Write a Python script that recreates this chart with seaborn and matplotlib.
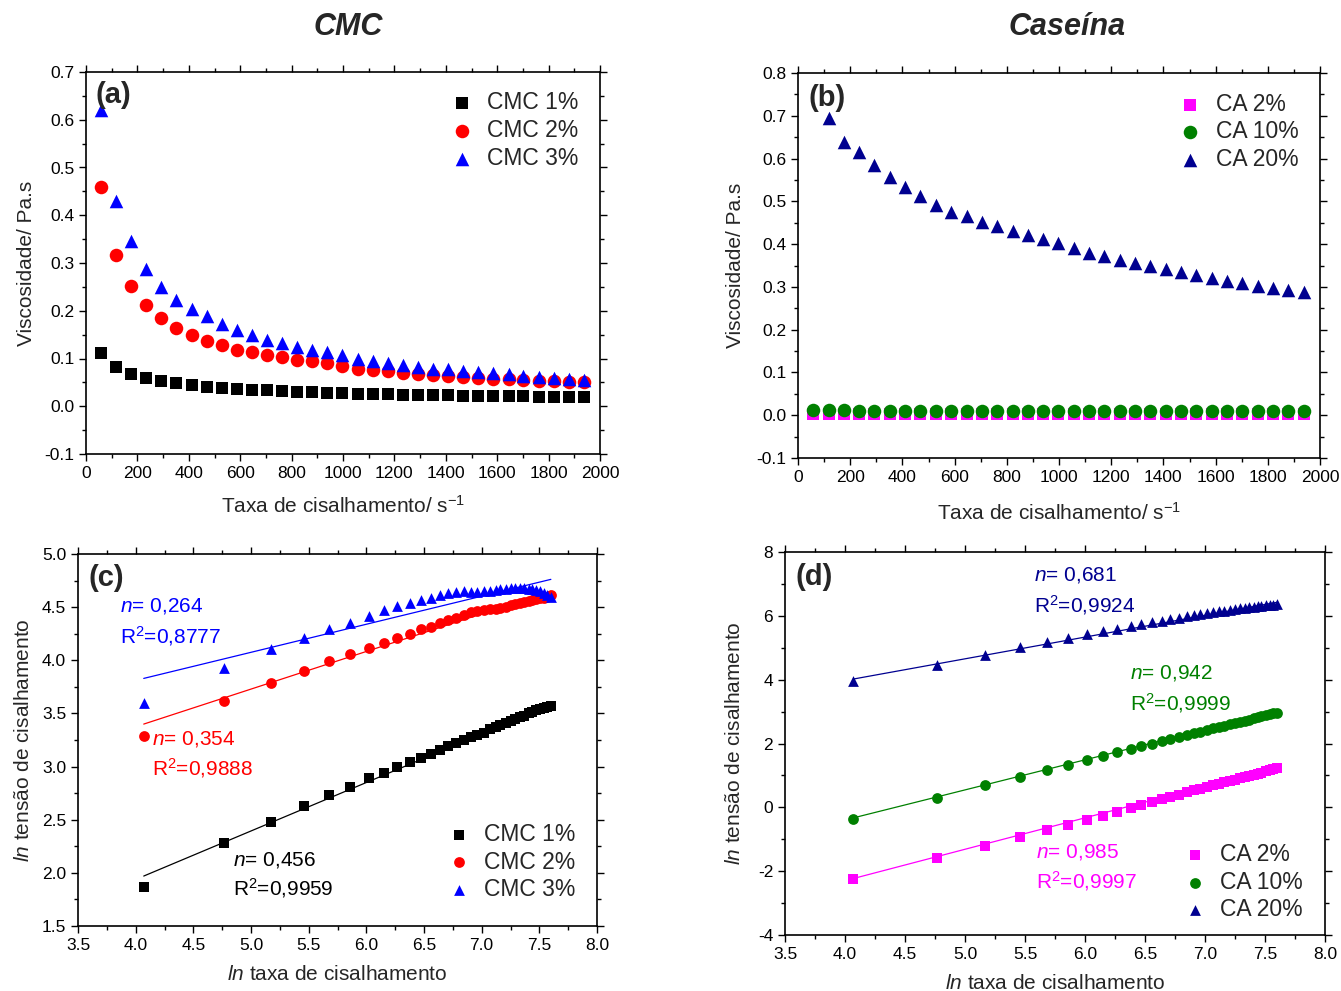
import numpy as np
import pandas as pd
import matplotlib
matplotlib.use("Agg")
import matplotlib.pyplot as plt
from matplotlib.ticker import MultipleLocator, AutoMinorLocator
import seaborn as sns

# ---------------- data ----------------
shear_rate = [58, 117, 176, 234, 293, 352, 411, 469, 528, 587, 646, 704, 763, 822, 880,
              939, 998, 1057, 1115, 1174, 1233, 1291, 1350, 1409, 1468, 1526, 1585, 1644,
              1702, 1761, 1820, 1878, 1937]

cmc1_visc = [0.111, 0.083, 0.068, 0.059, 0.052, 0.048, 0.045, 0.041, 0.038, 0.036, 0.034,
             0.033, 0.031, 0.030, 0.029, 0.028, 0.027, 0.026, 0.026, 0.025, 0.024, 0.024,
             0.023, 0.023, 0.022, 0.022, 0.022, 0.021, 0.021, 0.020, 0.020, 0.019, 0.019]
cmc2_visc = [0.459, 0.317, 0.251, 0.212, 0.185, 0.164, 0.150, 0.137, 0.128, 0.118, 0.113,
             0.107, 0.104, 0.097, 0.094, 0.091, 0.085, 0.079, 0.076, 0.073, 0.070, 0.068,
             0.066, 0.064, 0.062, 0.060, 0.058, 0.057, 0.055, 0.053, 0.052, 0.051, 0.050]
cmc3_visc = [0.620, 0.430, 0.346, 0.287, 0.249, 0.223, 0.203, 0.188, 0.173, 0.160, 0.150,
             0.139, 0.132, 0.125, 0.118, 0.113, 0.107, 0.100, 0.095, 0.091, 0.086, 0.083,
             0.079, 0.077, 0.073, 0.071, 0.069, 0.067, 0.064, 0.062, 0.059, 0.057, 0.055]

ca2_visc = [0.0018, 0.0018, 0.0018, 0.0018, 0.0018, 0.0018, 0.0018, 0.0018, 0.0018, 0.0018,
            0.0018, 0.0018, 0.0018, 0.0018, 0.0018, 0.0018, 0.0018, 0.0017, 0.0017, 0.0017,
            0.0017, 0.0017, 0.0017, 0.0017, 0.0017, 0.0017, 0.0017, 0.0017, 0.0017, 0.0017,
            0.0017, 0.0017, 0.0017]
ca10_visc = [0.012, 0.012, 0.012, 0.011, 0.011, 0.011, 0.011, 0.011, 0.011, 0.011, 0.011,
             0.011, 0.011, 0.011, 0.011, 0.010, 0.010, 0.010, 0.010, 0.010, 0.010, 0.010,
             0.010, 0.010, 0.010, 0.010, 0.010, 0.010, 0.010, 0.010, 0.010, 0.010, 0.010]
ca20_rate = shear_rate[1:]
ca20_visc = [0.694, 0.638, 0.616, 0.586, 0.556, 0.533, 0.513, 0.492, 0.476, 0.465, 0.451,
             0.443, 0.431, 0.421, 0.412, 0.402, 0.390, 0.380, 0.372, 0.363, 0.357, 0.349,
             0.341, 0.335, 0.328, 0.320, 0.314, 0.309, 0.302, 0.297, 0.292, 0.287]

ln_rate = [4.07, 4.77, 5.17, 5.46, 5.68, 5.86, 6.02, 6.15, 6.27, 6.38, 6.47, 6.56, 6.64,
           6.71, 6.78, 6.85, 6.91, 6.96, 7.02, 7.07, 7.12, 7.16, 7.21, 7.25, 7.29, 7.33,
           7.37, 7.41, 7.44, 7.47, 7.51, 7.54, 7.57, 7.60]

cmc1_ln = [1.87, 2.28, 2.48, 2.63, 2.73, 2.81, 2.89, 2.94, 3.00, 3.04, 3.08, 3.12, 3.16,
           3.19, 3.22, 3.25, 3.28, 3.30, 3.32, 3.35, 3.37, 3.39, 3.41, 3.43, 3.45, 3.47,
           3.48, 3.50, 3.51, 3.53, 3.54, 3.55, 3.56, 3.57]
cmc2_ln = [3.29, 3.62, 3.79, 3.90, 3.99, 4.06, 4.12, 4.16, 4.21, 4.25, 4.29, 4.31, 4.35,
           4.38, 4.40, 4.43, 4.45, 4.46, 4.47, 4.48, 4.48, 4.49, 4.50, 4.52, 4.53, 4.54,
           4.55, 4.56, 4.57, 4.58, 4.59, 4.59, 4.60, 4.61]
cmc3_ln = [3.60, 3.93, 4.11, 4.21, 4.29, 4.35, 4.42, 4.47, 4.51, 4.54, 4.57, 4.59, 4.61,
           4.63, 4.64, 4.65, 4.64, 4.64, 4.65, 4.65, 4.66, 4.67, 4.67, 4.68, 4.68, 4.68,
           4.68, 4.67, 4.67, 4.66, 4.65, 4.63, 4.61, 4.60]

ca2_ln = [-2.25, -1.59, -1.20, -0.92, -0.71, -0.54, -0.39, -0.26, -0.14, -0.03, 0.07, 0.17,
          0.25, 0.33, 0.40, 0.47, 0.53, 0.59, 0.64, 0.69, 0.74, 0.79, 0.83, 0.87, 0.91, 0.95,
          0.99, 1.02, 1.06, 1.09, 1.13, 1.16, 1.19, 1.22]
ca10_ln = [-0.35, 0.30, 0.69, 0.96, 1.17, 1.34, 1.48, 1.61, 1.72, 1.82, 1.91, 1.99, 2.07,
           2.14, 2.20, 2.26, 2.32, 2.37, 2.42, 2.47, 2.52, 2.56, 2.60, 2.64, 2.68, 2.72,
           2.75, 2.79, 2.82, 2.85, 2.89, 2.92, 2.94, 2.97]
ca20_ln = [3.97, 4.46, 4.77, 5.01, 5.19, 5.32, 5.43, 5.52, 5.60, 5.67, 5.74, 5.80, 5.85,
           5.90, 5.94, 5.98, 6.02, 6.05, 6.08, 6.11, 6.14, 6.16, 6.19, 6.21, 6.23, 6.25,
           6.27, 6.29, 6.30, 6.32, 6.33, 6.34, 6.35, 6.36]

# power-law fits (n = slope, intercept)
cmc_n = [0.456, 0.354, 0.264]
cmc_b = [0.114, 1.959, 2.755]
cmc_r2 = ["0,9959", "0,9888", "0,8777"]
ca_n = [0.985, 0.942, 0.681]
ca_b = [-6.239, -4.164, 1.248]
ca_r2 = ["0,9997", "0,9999", "0,9924"]

cmc_labels = ["CMC 1%", "CMC 2%", "CMC 3%"]
ca_labels = ["CA 2%", "CA 10%", "CA 20%"]
cmc_colors = ["#000000", "#FF0000", "#0000FF"]
ca_colors = ["#FF00FF", "#008000", "#000090"]
markers = ["s", "o", "^"]

# ---------------- style ----------------
sns.set_theme(style="ticks")
plt.rcParams["font.family"] = ["Liberation Sans", "DejaVu Sans"]
plt.rcParams["mathtext.fontset"] = "custom"
plt.rcParams["mathtext.rm"] = "Liberation Sans"
plt.rcParams["mathtext.it"] = "Liberation Sans:italic"
plt.rcParams["mathtext.bf"] = "Liberation Sans:bold"
plt.rcParams["axes.linewidth"] = 1.2
plt.rcParams["axes.unicode_minus"] = False

TICK_FS = 12.5
LAB_FS = 15
LEG_FS = 16.5
ANN_FS = 15
PAN_FS = 21

W, H = 1341, 991
fig = plt.figure(figsize=(W / 100, H / 100), dpi=100)


def px_axes(l, t, r, b):
    return fig.add_axes([l / W, 1 - b / H, (r - l) / W, (b - t) / H])


ax_a = px_axes(86, 72, 600, 454)
ax_b = px_axes(798, 73, 1320, 458)
ax_c = px_axes(78, 554, 597, 926)
ax_d = px_axes(785, 552, 1325, 935)


def style_axes(ax, xmaj, ymaj):
    ax.xaxis.set_major_locator(MultipleLocator(xmaj))
    ax.yaxis.set_major_locator(MultipleLocator(ymaj))
    ax.xaxis.set_minor_locator(AutoMinorLocator(2))
    ax.yaxis.set_minor_locator(AutoMinorLocator(2))
    ax.tick_params(which="both", direction="out", top=True, right=True,
                   labelsize=TICK_FS, colors="black", width=1.0)
    ax.tick_params(which="major", length=5)
    ax.tick_params(which="minor", length=3)
    for s in ax.spines.values():
        s.set_visible(True)
        s.set_color("black")


# ---------- (a) ----------
for vals, lab, col, mk, sz in zip([cmc1_visc, cmc2_visc, cmc3_visc], cmc_labels,
                                  cmc_colors, markers, [70, 95, 95]):
    sns.scatterplot(x=shear_rate, y=vals, ax=ax_a, marker=mk, color=col, s=sz,
                    linewidth=0, label=lab)
ax_a.set_xlim(0, 2000)
ax_a.set_ylim(-0.1, 0.7)
style_axes(ax_a, 200, 0.1)
ax_a.set_xlabel("Taxa de cisalhamento/ s$^{-1}$", fontsize=LAB_FS, labelpad=10)
ax_a.set_ylabel("Viscosidade/ Pa.s", fontsize=LAB_FS, labelpad=6)
ax_a.legend(loc="upper right", bbox_to_anchor=(0.985, 0.985), frameon=False, fontsize=LEG_FS,
            handletextpad=0.1, labelspacing=0.2, borderaxespad=0.2)
ax_a.text(0.018, 0.94, "(a)", transform=ax_a.transAxes, fontsize=PAN_FS, fontweight="bold",
          va="center", ha="left")

# ---------- (b) ----------
for xs, vals, lab, col, mk, sz in zip([shear_rate, shear_rate, ca20_rate],
                                      [ca2_visc, ca10_visc, ca20_visc], ca_labels,
                                      ca_colors, markers, [70, 95, 95]):
    sns.scatterplot(x=xs, y=vals, ax=ax_b, marker=mk, color=col, s=sz,
                    linewidth=0, label=lab)
ax_b.set_xlim(0, 2000)
ax_b.set_ylim(-0.1, 0.8)
style_axes(ax_b, 200, 0.1)
ax_b.set_xlabel("Taxa de cisalhamento/ s$^{-1}$", fontsize=LAB_FS, labelpad=12)
ax_b.set_ylabel("Viscosidade/ Pa.s", fontsize=LAB_FS, labelpad=8)
ax_b.legend(loc="upper right", bbox_to_anchor=(0.985, 0.985), frameon=False, fontsize=LEG_FS,
            handletextpad=0.1, labelspacing=0.2, borderaxespad=0.2)
ax_b.text(0.02, 0.935, "(b)", transform=ax_b.transAxes, fontsize=PAN_FS, fontweight="bold",
          va="center", ha="left")

# ---------- (c) ----------
x_ends = [ln_rate[0], ln_rate[-1]]
for vals, lab, col, mk, sz, n, b in zip([cmc1_ln, cmc2_ln, cmc3_ln], cmc_labels, cmc_colors,
                                        markers, [45, 60, 60], cmc_n, cmc_b):
    sns.scatterplot(x=ln_rate, y=vals, ax=ax_c, marker=mk, color=col, s=sz,
                    linewidth=0, label=lab, zorder=3)
    sns.lineplot(x=x_ends, y=[n * x + b for x in x_ends], ax=ax_c, color=col,
                 linewidth=0.9, zorder=2)
ax_c.set_xlim(3.5, 8.0)
ax_c.set_ylim(1.5, 5.0)
style_axes(ax_c, 0.5, 0.5)
ax_c.set_xlabel("$ln$ taxa de cisalhamento", fontsize=LAB_FS, labelpad=9)
ax_c.set_ylabel("$ln$ tensão de cisalhamento", fontsize=LAB_FS, labelpad=6)
h, l = ax_c.get_legend_handles_labels()
ax_c.legend(h[:3], l[:3], loc="lower right", bbox_to_anchor=(0.985, 0.03), frameon=False,
            fontsize=LEG_FS, handletextpad=0.1, labelspacing=0.2, borderaxespad=0.2)
ax_c.text(0.02, 0.935, "(c)", transform=ax_c.transAxes, fontsize=PAN_FS, fontweight="bold",
          va="center", ha="left")
c_text_pos = [(4.844, 2.121, 1.858), (4.142, 3.26, 2.986), (3.864, 4.511, 4.228)]
for (tx, ty1, ty2), n, r2, col in zip(c_text_pos, cmc_n, cmc_r2, cmc_colors):
    ax_c.text(tx, ty1, "$n$= " + f"{n:.3f}".replace(".", ","), color=col, fontsize=ANN_FS,
              va="center", ha="left")
    ax_c.text(tx, ty2, "R$^2$=" + r2, color=col, fontsize=ANN_FS, va="center", ha="left")

# ---------- (d) ----------
for vals, lab, col, mk, sz, n, b in zip([ca2_ln, ca10_ln, ca20_ln], ca_labels, ca_colors,
                                        markers, [45, 60, 60], ca_n, ca_b):
    sns.scatterplot(x=ln_rate, y=vals, ax=ax_d, marker=mk, color=col, s=sz,
                    linewidth=0, label=lab, zorder=3)
    sns.lineplot(x=x_ends, y=[n * x + b for x in x_ends], ax=ax_d, color=col,
                 linewidth=0.9, zorder=2)
ax_d.set_xlim(3.5, 8.0)
ax_d.set_ylim(-4, 8)
style_axes(ax_d, 0.5, 2)
ax_d.set_xlabel("$ln$ taxa de cisalhamento", fontsize=LAB_FS, labelpad=9)
ax_d.set_ylabel("$ln$ tensão de cisalhamento", fontsize=LAB_FS, labelpad=10)
h, l = ax_d.get_legend_handles_labels()
ax_d.legend(h[:3], l[:3], loc="lower right", bbox_to_anchor=(0.985, 0.0), frameon=False,
            fontsize=LEG_FS, handletextpad=0.1, labelspacing=0.2, borderaxespad=0.2)
ax_d.text(0.02, 0.935, "(d)", transform=ax_d.transAxes, fontsize=PAN_FS, fontweight="bold",
          va="center", ha="left")
d_text_pos = [(5.592, -1.40, -2.31), (6.375, 4.21, 3.27), (5.575, 7.28, 6.34)]
for (tx, ty1, ty2), n, r2, col in zip(d_text_pos, ca_n, ca_r2, ca_colors):
    ax_d.text(tx, ty1, "$n$= " + f"{n:.3f}".replace(".", ","), color=col, fontsize=ANN_FS,
              va="center", ha="left")
    ax_d.text(tx, ty2, "R$^2$=" + r2, color=col, fontsize=ANN_FS, va="center", ha="left")

# ---------- titles ----------
fig.text(348 / W, 1 - 27 / H, "CMC", fontsize=22, fontweight="bold", fontstyle="italic",
         ha="center", va="center")
fig.text(1067 / W, 1 - 27 / H, "Caseína", fontsize=22, fontweight="bold",
         fontstyle="italic", ha="center", va="center")

fig.savefig("out.png", dpi=100)
